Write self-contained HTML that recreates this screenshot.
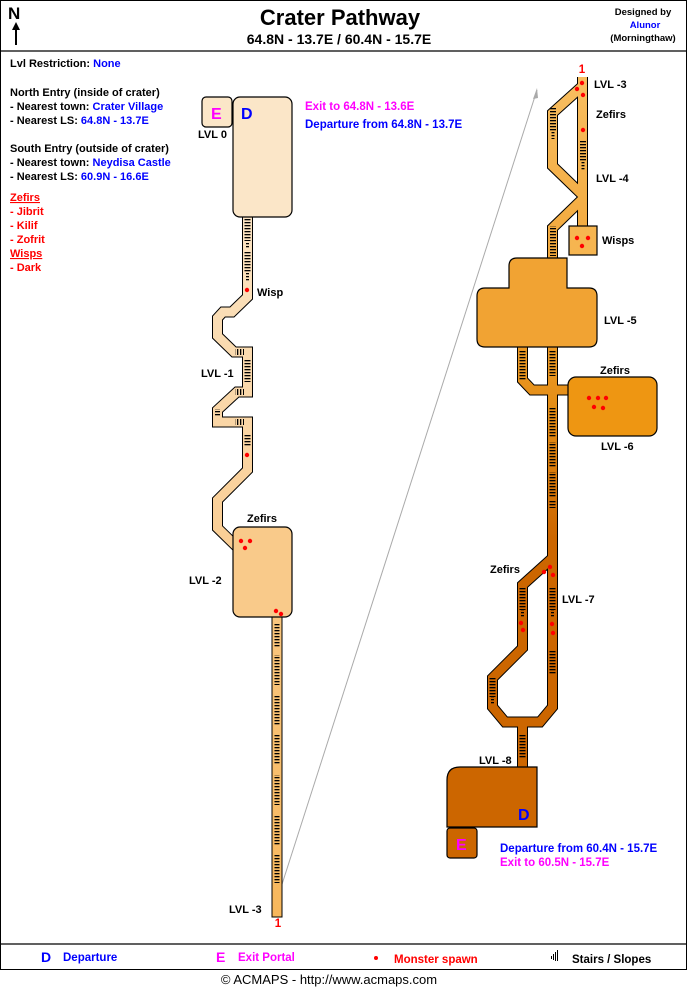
<!DOCTYPE html>
<html><head><meta charset="utf-8"><style>
html,body{margin:0;padding:0;background:#fff}
svg{display:block}
text{font-family:"Liberation Sans",Arial,sans-serif;font-weight:bold}
</style></head><body>
<svg width="687" height="991" viewBox="0 0 687 991" xmlns="http://www.w3.org/2000/svg">
<defs>
<pattern id="st" width="12" height="3" patternUnits="userSpaceOnUse"><rect width="12" height="1.3" fill="#000"/></pattern>
<pattern id="sv" width="3" height="12" patternUnits="userSpaceOnUse"><rect width="1.3" height="12" fill="#000"/></pattern>
<linearGradient id="lg" gradientUnits="userSpaceOnUse" x1="0" y1="210" x2="0" y2="620"><stop offset="0" stop-color="#fbe4c4"/><stop offset="1" stop-color="#f9c98a"/></linearGradient>
<linearGradient id="lc" gradientUnits="userSpaceOnUse" x1="0" y1="617" x2="0" y2="916"><stop offset="0" stop-color="#f9c67e"/><stop offset="1" stop-color="#f7b75c"/></linearGradient>
<linearGradient id="rg" gradientUnits="userSpaceOnUse" x1="0" y1="70" x2="0" y2="780"><stop offset="0" stop-color="#f8bf62"/><stop offset="0.32" stop-color="#f1a333"/><stop offset="0.48" stop-color="#e48d15"/><stop offset="0.66" stop-color="#cc6600"/><stop offset="1" stop-color="#cc6600"/></linearGradient>
</defs>
<rect x="0.5" y="0.5" width="686" height="969" fill="#fff" stroke="#000"/>
<line x1="0" y1="51" x2="687" y2="51" stroke="#000" stroke-width="1.2"/>
<line x1="0" y1="944" x2="687" y2="944" stroke="#000" stroke-width="1.2"/>
<!-- header -->
<text x="8" y="19" font-size="17">N</text>
<line x1="16" y1="25" x2="16" y2="45" stroke="#000" stroke-width="2"/>
<polygon points="12,30 16,22 20,30" fill="#000"/>
<text x="340" y="25" font-size="22" text-anchor="middle">Crater Pathway</text>
<text x="339" y="44" font-size="14" text-anchor="middle">64.8N - 13.7E  /  60.4N - 15.7E</text>
<text x="643" y="15" font-size="9.5" text-anchor="middle">Designed by</text>
<text x="645" y="28" font-size="9.5" text-anchor="middle" fill="#0000ff">Alunor</text>
<text x="643" y="41" font-size="9.5" text-anchor="middle">(Morningthaw)</text>
<!-- left info -->
<g font-size="11">
<text x="10" y="67">Lvl Restriction: <tspan fill="#0000ff">None</tspan></text>
<text x="10" y="96">North Entry (inside of crater)</text>
<text x="10" y="110">- Nearest town: <tspan fill="#0000ff">Crater Village</tspan></text>
<text x="10" y="124">- Nearest LS: <tspan fill="#0000ff">64.8N - 13.7E</tspan></text>
<text x="10" y="152">South Entry (outside of crater)</text>
<text x="10" y="166">- Nearest town: <tspan fill="#0000ff">Neydisa Castle</tspan></text>
<text x="10" y="180">- Nearest LS: <tspan fill="#0000ff">60.9N - 16.6E</tspan></text>
<g fill="#ff0000">
<text x="10" y="201" text-decoration="underline">Zefirs</text>
<text x="10" y="215">- Jibrit</text>
<text x="10" y="229">- Kilif</text>
<text x="10" y="243">- Zofrit</text>
<text x="10" y="257" text-decoration="underline">Wisps</text>
<text x="10" y="271">- Dark</text>
</g></g>
<!-- arrow -->
<line x1="276" y1="903" x2="537" y2="90" stroke="#aaa" stroke-width="1"/>
<polygon points="537,88 533,99 538,98" fill="#aaa"/>
<polygon points="275,905 274,894 279,896" fill="#aaa"/>
<!-- LEFT MAP -->
<g fill="none" stroke-linejoin="miter">
<polyline points="247.5,210 247.5,297 232,312 223,312 217.5,318 217.5,336 234,352 247.5,352 247.5,392 237,392 217.5,410 217.5,422 247.5,422 247.5,470 217.5,500 217.5,528 240,550" stroke="#000" stroke-width="11"/>
<polyline points="247.5,210 247.5,297 232,312 223,312 217.5,318 217.5,336 234,352 247.5,352 247.5,392 237,392 217.5,410 217.5,422 247.5,422 247.5,470 217.5,500 217.5,528 240,550" stroke="url(#lg)" stroke-width="9"/>
</g>
<rect x="272" y="610" width="10" height="307" fill="url(#lc)" stroke="#000"/>
<rect x="202" y="97" width="30" height="30" rx="4" fill="#fbe6c8" stroke="#000" stroke-width="1.2"/>
<rect x="233" y="97" width="59" height="120" rx="7" fill="#fbe6c8" stroke="#000" stroke-width="1.2"/>
<rect x="233" y="527" width="59" height="90" rx="7" fill="#f9ca8a" stroke="#000" stroke-width="1.2"/>
<g fill="url(#st)">
<rect x="244.5" y="219" width="6" height="22"/><rect x="246" y="242" width="3" height="6"/>
<rect x="244.5" y="251" width="6" height="22"/><rect x="246" y="273" width="3" height="8"/>
<rect x="244.5" y="360" width="6" height="22"/>
<rect x="215" y="409" width="5" height="8"/>
<rect x="244.5" y="434" width="6" height="12"/>
<rect x="274.5" y="623" width="5" height="24"/><rect x="274.5" y="655" width="5" height="30"/>
<rect x="274.5" y="695" width="5" height="30"/><rect x="274.5" y="735" width="5" height="30"/>
<rect x="274.5" y="775" width="5" height="30"/><rect x="274.5" y="815" width="5" height="30"/>
<rect x="274.5" y="855" width="5" height="28"/>
</g>
<g fill="url(#sv)">
<rect x="235" y="349" width="9" height="6"/><rect x="235" y="389" width="9" height="6"/><rect x="235" y="419" width="9" height="6"/>
</g>
<!-- RIGHT MAP -->
<g fill="none" stroke-linejoin="miter">
<g stroke="#000" stroke-width="11">
<polyline points="582.5,77 582.5,228"/>
<polyline points="582.5,86 552.5,113 552.5,166 582.5,195"/>
<polyline points="582.5,199 552.5,228 552.5,262"/>
<polyline points="522.5,340 522.5,380 532,390 575,390"/>
<polyline points="552.5,340 552.5,707 540,722 505,722 492.5,707 492.5,678 522.5,648 522.5,585 552.5,558"/>
<polyline points="522.5,720 522.5,772"/>
</g>
<g stroke="url(#rg)" stroke-width="9">
<polyline points="582.5,77 582.5,228"/>
<polyline points="582.5,86 552.5,113 552.5,166 582.5,195"/>
<polyline points="582.5,199 552.5,228 552.5,262"/>
<polyline points="522.5,340 522.5,380 532,390 575,390"/>
<polyline points="552.5,340 552.5,707 540,722 505,722 492.5,707 492.5,678 522.5,648 522.5,585 552.5,558"/>
<polyline points="522.5,720 522.5,772"/>
</g>
</g>
<rect x="569" y="226" width="28" height="29" fill="#f6b550" stroke="#000" stroke-width="1.2"/>
<path d="M509,266 q0,-8 8,-8 h50 v30 h22 q8,0 8,8 v43 q0,8 -8,8 h-104 q-8,0 -8,-8 v-43 q0,-8 8,-8 h24 z" fill="#f1a333" stroke="#000" stroke-width="1.2"/>
<rect x="568" y="377" width="89" height="59" rx="8" fill="#ee9612" stroke="#000" stroke-width="1.2"/>
<path d="M447,780 q0,-13 13,-13 h77 v60 h-90 z" fill="#cc6600" stroke="#000" stroke-width="1.2"/>
<rect x="447" y="828" width="30" height="30" rx="3" fill="#cc6600" stroke="#000" stroke-width="1.2"/>
<g fill="url(#st)">
<rect x="550" y="107" width="6" height="24"/><rect x="551.5" y="131" width="3" height="8"/>
<rect x="580" y="140" width="6" height="22"/><rect x="581.5" y="162" width="3" height="8"/>
<rect x="550" y="226" width="6" height="30"/>
<rect x="519.5" y="350" width="6" height="30"/><rect x="549.5" y="350" width="6" height="26"/>
<rect x="549.5" y="408" width="6" height="30"/><rect x="549.5" y="442" width="6" height="26"/>
<rect x="549.5" y="472" width="6" height="26"/><rect x="549.5" y="500" width="6" height="8"/>
<rect x="519.5" y="588" width="6" height="22"/><rect x="521" y="610" width="3" height="8"/>
<rect x="549.5" y="588" width="6" height="22"/><rect x="551" y="610" width="3" height="8"/>
<rect x="549.5" y="650" width="6" height="24"/>
<rect x="489.5" y="677" width="6" height="20"/><rect x="491" y="697" width="3" height="7"/>
<rect x="519.5" y="735" width="6" height="24"/>
</g>
<!-- dots -->
<g fill="#ff0000">
<circle cx="247" cy="290" r="2.2"/><circle cx="247" cy="455" r="2.2"/>
<circle cx="241" cy="541" r="2.2"/><circle cx="250" cy="541" r="2.2"/><circle cx="245" cy="548" r="2.2"/>
<circle cx="276" cy="611" r="2.2"/><circle cx="281" cy="614" r="2.2"/>
<circle cx="582" cy="83" r="2.2"/><circle cx="577" cy="89" r="2.2"/><circle cx="583" cy="95" r="2.2"/><circle cx="583" cy="130" r="2.2"/>
<circle cx="577" cy="238" r="2.2"/><circle cx="588" cy="238" r="2.2"/><circle cx="582" cy="246" r="2.2"/>
<circle cx="589" cy="398" r="2.2"/><circle cx="598" cy="398" r="2.2"/><circle cx="606" cy="398" r="2.2"/><circle cx="594" cy="407" r="2.2"/><circle cx="603" cy="408" r="2.2"/>
<circle cx="550" cy="567" r="2.2"/><circle cx="544" cy="572" r="2.2"/><circle cx="553" cy="575" r="2.2"/>
<circle cx="521" cy="623" r="2.2"/><circle cx="523" cy="630" r="2.2"/><circle cx="552" cy="624" r="2.2"/><circle cx="553" cy="633" r="2.2"/>
</g>
<!-- labels -->
<g font-size="11">
<text x="198" y="138">LVL 0</text>
<text x="257" y="296">Wisp</text>
<text x="201" y="377">LVL -1</text>
<text x="247" y="522">Zefirs</text>
<text x="189" y="584">LVL -2</text>
<text x="229" y="913">LVL -3</text>
<text x="594" y="88">LVL -3</text>
<text x="596" y="118">Zefirs</text>
<text x="596" y="182">LVL -4</text>
<text x="602" y="244">Wisps</text>
<text x="604" y="324">LVL -5</text>
<text x="600" y="374">Zefirs</text>
<text x="601" y="450">LVL -6</text>
<text x="490" y="573">Zefirs</text>
<text x="562" y="603">LVL -7</text>
<text x="479" y="764">LVL -8</text>
</g>
<g font-size="11.5">
<text x="305" y="110" fill="#ff00ff">Exit to 64.8N - 13.6E</text>
<text x="305" y="128" fill="#0000ff">Departure from 64.8N - 13.7E</text>
<text x="500" y="852" fill="#0000ff">Departure from 60.4N - 15.7E</text>
<text x="500" y="866" fill="#ff00ff">Exit to 60.5N - 15.7E</text>
<text x="582" y="73" fill="#ff0000" text-anchor="middle">1</text>
<text x="278" y="927" fill="#ff0000" text-anchor="middle">1</text>
</g>
<g font-size="16">
<text x="211" y="119" fill="#ff00ff">E</text>
<text x="241" y="119" fill="#0000ff">D</text>
<text x="518" y="820" fill="#0000ff">D</text>
<text x="456" y="850" fill="#ff00ff">E</text>
</g>
<!-- legend -->
<text x="41" y="962" font-size="14" fill="#0000ff">D</text>
<text x="63" y="961" font-size="11.5" fill="#0000ff">Departure</text>
<text x="216" y="962" font-size="14" fill="#ff00ff">E</text>
<text x="238" y="961" font-size="11.5" fill="#ff00ff">Exit Portal</text>
<circle cx="376" cy="958" r="2" fill="#ff0000"/>
<text x="394" y="963" font-size="11.5" fill="#ff0000">Monster spawn</text>
<g fill="#000"><rect x="551" y="956" width="1" height="3"/><rect x="553" y="954" width="1" height="6"/><rect x="555" y="952" width="1" height="9"/><rect x="557" y="950" width="1" height="11"/></g>
<text x="572" y="963" font-size="11.5">Stairs / Slopes</text>
<text x="329" y="984" font-size="13" text-anchor="middle" style="font-weight:normal">© ACMAPS - http://www.acmaps.com</text>
</svg>
</body></html>
